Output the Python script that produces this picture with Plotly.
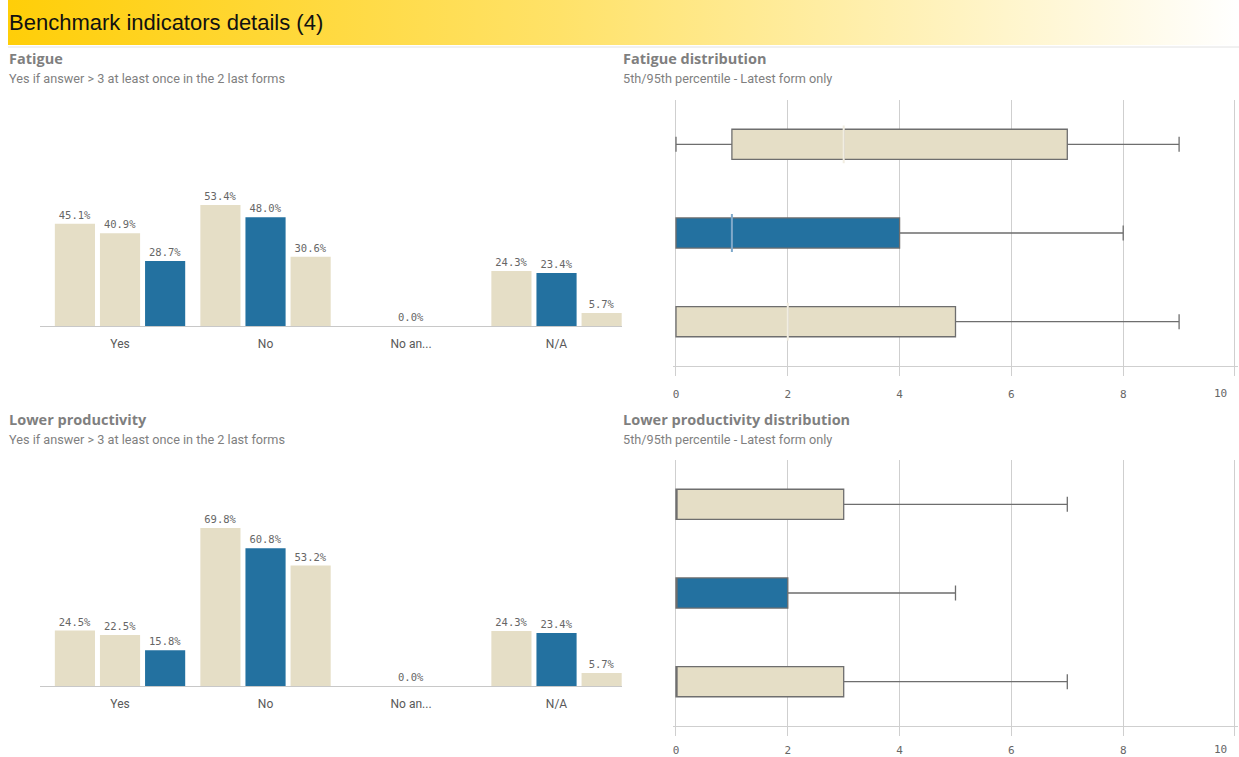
import plotly.graph_objects as go

# ---------------- data ----------------
category_labels = ["Yes", "No", "No an...", "N/A"]

# Bar values per slot within each group (slots ordered by value, descending)
fatigue_slot1 = [45.1, 53.4, None, 24.3]
fatigue_slot2 = [40.9, 48.0, 0.0, 23.4]
fatigue_slot3 = [28.7, 30.6, None, 5.7]
fatigue_own_slot = [2, 1, None, 1]

productivity_slot1 = [24.5, 69.8, None, 24.3]
productivity_slot2 = [22.5, 60.8, 0.0, 23.4]
productivity_slot3 = [15.8, 53.2, None, 5.7]
productivity_own_slot = [2, 1, None, 1]

# Distribution rows (top to bottom)
dist_rows = ["Benchmark A", "Your company", "Benchmark B"]
dist_own = [False, True, False]

fatigue_low = [0, 0, 0]
fatigue_q1 = [1, 0, 0]
fatigue_median = [3, 1, 2]
fatigue_q3 = [7, 4, 5]
fatigue_high = [9, 8, 9]

productivity_low = [0, 0, 0]
productivity_q1 = [0, 0, 0]
productivity_median = [0, 0, 0]
productivity_q3 = [3, 2, 3]
productivity_high = [7, 5, 7]

dist_ticks = [0, 2, 4, 6, 8, 10]

# ---------------- style ----------------
W, H = 1239, 757
BEIGE = "#E5DEC6"
BLUE = "#2371A0"
GRID = "#CFCFCF"
TEXT = "#666666"
HEAD = "#7F7F7F"
MONO = "DejaVu Sans Mono"
SANS = "Roboto"

# distribution axes: value 0 sits at x=676px, value 10 at x=1235px
DIST_X0, DIST_X10 = 676, 1235
DIST_PAD = 0.06
_unit = (DIST_X10 - DIST_X0) / 10


def px_x(p):
    return p / W


def px_y(p):
    return 1 - p / H


fig = go.Figure()


def add_bars(slots, own_slot, xa, ya):
    for k, vals in enumerate(slots):
        colors = [BLUE if own_slot[i] == k else BEIGE for i in range(len(vals))]
        fig.add_trace(go.Bar(
            x=category_labels, y=vals, xaxis=xa, yaxis=ya,
            marker=dict(color=colors, line=dict(width=0)),
            text=[None if v is None else f"{v:.1f}%" for v in vals],
            textposition="outside", cliponaxis=False,
            textfont=dict(family=MONO, size=10.5, color=TEXT),
            showlegend=False, hoverinfo="skip",
        ))


add_bars([fatigue_slot1, fatigue_slot2, fatigue_slot3], fatigue_own_slot, "x", "y")
add_bars([productivity_slot1, productivity_slot2, productivity_slot3],
         productivity_own_slot, "x2", "y2")


def add_boxes(low, q1, med, q3, high, xa, ya):
    for i, row in enumerate(dist_rows):
        fill = BLUE if dist_own[i] else BEIGE
        fig.add_trace(go.Box(
            y=[row], q1=[q1[i]], median=[med[i]], q3=[q3[i]],
            lowerfence=[low[i]], upperfence=[high[i]],
            orientation="h", xaxis=xa, yaxis=ya,
            fillcolor=fill, line=dict(color="#6E6E6E", width=1.3),
            whiskerwidth=0.5, boxpoints=False,
            showlegend=False, hoverinfo="skip",
        ))
    # lighter median stroke inside the box
    mx, my, mc = [], [], []
    for i, row in enumerate(dist_rows):
        if q1[i] < med[i] < q3[i]:
            mx.append(med[i])
            my.append(row)
            mc.append("#7FA9CB" if dist_own[i] else "#F1EDE1")
    if mx:
        fig.add_trace(go.Scatter(
            x=mx, y=my, mode="markers", xaxis=xa, yaxis=ya,
            marker=dict(symbol="line-ns", size=27,
                        line=dict(color=mc, width=2)),
            showlegend=False, hoverinfo="skip",
        ))


add_boxes(fatigue_low, fatigue_q1, fatigue_median, fatigue_q3, fatigue_high, "x3", "y3")
add_boxes(productivity_low, productivity_q1, productivity_median, productivity_q3,
          productivity_high, "x4", "y4")

# header band with horizontal yellow gradient
fig.add_trace(go.Scatter(
    x=[0, 1, 1, 0, 0], y=[0, 0, 1, 1, 0], xaxis="x5", yaxis="y5",
    mode="lines", line=dict(width=0), fill="toself",
    fillgradient=dict(type="horizontal",
                      colorscale=[[0, "#FFCE08"], [0.45, "#FFE269"], [1, "#FFFFFF"]]),
    showlegend=False, hoverinfo="skip",
))

# the last distribution tick label is pulled inside the plot edge
dist_ticktext = [str(t) for t in dist_ticks[:-1]] + [""]

bar_x = dict(type="category", range=[-0.55, 3.45], showgrid=False, zeroline=False,
             showline=True, linecolor="#C8C8C8", linewidth=1, ticks="",
             ticklabelstandoff=7,
             tickfont=dict(family=SANS, size=12, color="#595959"), fixedrange=True)
bar_y = dict(range=[0, 100], visible=False, fixedrange=True)
box_x = dict(range=[-DIST_PAD, 10 + DIST_PAD], tickvals=dist_ticks,
             ticktext=dist_ticktext, showgrid=True,
             gridcolor=GRID, gridwidth=1, zeroline=False, showline=True, linecolor=GRID,
             ticks="outside", ticklen=9, tickcolor=GRID,
             tickfont=dict(family=MONO, size=11, color=TEXT), fixedrange=True)
box_y = dict(type="category", categoryorder="array",
             categoryarray=list(reversed(dist_rows)), showticklabels=False,
             showgrid=False, zeroline=False, fixedrange=True)

box_dom = [px_x(DIST_X0 - DIST_PAD * _unit), px_x(DIST_X10 + DIST_PAD * _unit)]

fig.update_layout(
    width=W, height=H, margin=dict(l=0, r=0, t=0, b=0),
    paper_bgcolor="white", plot_bgcolor="rgba(0,0,0,0)",
    barmode="group", bargap=0.07, bargroupgap=0.11,
    boxmode="overlay", boxgap=0.66, boxgroupgap=0,
    xaxis=dict(bar_x, domain=[px_x(40), px_x(622)], anchor="y"),
    yaxis=dict(bar_y, domain=[px_y(326), px_y(99.5)], anchor="x"),
    xaxis2=dict(bar_x, domain=[px_x(40), px_x(622)], anchor="y2"),
    yaxis2=dict(bar_y, domain=[px_y(686), px_y(459.5)], anchor="x2"),
    xaxis3=dict(box_x, domain=box_dom, anchor="y3", ticklabelstandoff=9),
    yaxis3=dict(box_y, domain=[px_y(366), px_y(100)], anchor="x3"),
    xaxis4=dict(box_x, domain=box_dom, anchor="y4", ticklabelstandoff=5),
    yaxis4=dict(box_y, domain=[px_y(726), px_y(460)], anchor="x4"),
    xaxis5=dict(range=[0, 1], visible=False, domain=[px_x(8), 1], anchor="y5", fixedrange=True),
    yaxis5=dict(range=[0, 1], visible=False, domain=[px_y(45), 1], anchor="x5", fixedrange=True),
    shapes=[dict(type="line", xref="paper", yref="paper",
                 x0=px_x(8), x1=1, y0=px_y(47), y1=px_y(47),
                 line=dict(color="#E2E2E2", width=1))],
)

HEAD_FONT = dict(family="Open Sans", size=14.5, color=HEAD)
SUB_FONT = dict(family=SANS, size=12.7, color=HEAD)
annotations = [
    dict(text="Benchmark indicators details (4)", x=px_x(7), y=px_y(22),
         font=dict(family="Liberation Sans", size=22, color="#111111")),
    dict(text="<b>Fatigue</b>", x=px_x(7), y=px_y(59), font=HEAD_FONT),
    dict(text="Yes if answer > 3 at least once in the 2 last forms", x=px_x(7), y=px_y(79),
         font=SUB_FONT),
    dict(text="<b>Fatigue distribution</b>", x=px_x(621), y=px_y(59), font=HEAD_FONT),
    dict(text="5th/95th percentile - Latest form only", x=px_x(621), y=px_y(79),
         font=SUB_FONT),
    dict(text="<b>Lower productivity</b>", x=px_x(7), y=px_y(419), font=HEAD_FONT),
    dict(text="Yes if answer > 3 at least once in the 2 last forms", x=px_x(7), y=px_y(439),
         font=SUB_FONT),
    dict(text="<b>Lower productivity distribution</b>", x=px_x(621), y=px_y(419),
         font=HEAD_FONT),
    dict(text="5th/95th percentile - Latest form only", x=px_x(621), y=px_y(439),
         font=SUB_FONT),
]
for a in annotations:
    a.update(xref="paper", yref="paper", xanchor="left", yanchor="middle",
             showarrow=False)

# end label of each distribution axis, right-aligned against the last gridline
for xa, label_y in (("x3", 393.5), ("x4", 749)):
    annotations.append(dict(
        text=str(dist_ticks[-1]), x=dist_ticks[-1], xref=xa, xanchor="right",
        xshift=-6, y=px_y(label_y), yref="paper", yanchor="middle",
        showarrow=False, font=dict(family=MONO, size=11, color=TEXT)))

fig.update_layout(annotations=annotations)

fig.write_html("out.html")
